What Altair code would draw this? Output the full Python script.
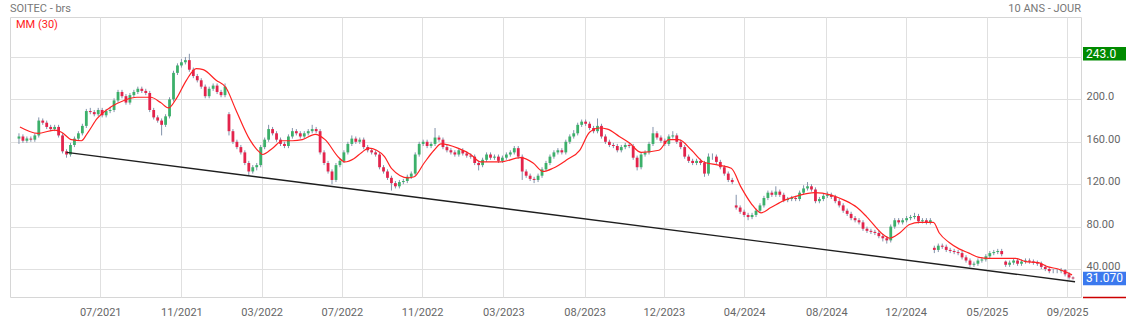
import json
import pandas as pd
import altair as alt

# ---------------- data ----------------
closes = [165,161,163,162,166,180,178,174,172,174,
          166,151,148,157,163,168,175,189,188,186,
          190,185,189,190,199,207,203,197,204,207,
          210,208,206,190,183,180,176,184,200,225,
          232,235,237,228,222,218,212,203,210,213,
          207,204,212,170,160,155,150,140,132,136,
          138,155,162,172,168,162,158,156,165,170,
          168,165,168,170,172,170,150,140,132,124,
          138,142,150,158,163,160,162,155,152,150,
          148,136,132,126,121,118,122,123,127,130,
          148,158,160,156,158,164,162,155,152,150,
          148,152,149,147,146,140,138,143,148,145,
          146,142,145,148,150,154,146,132,128,125,
          124,128,134,140,146,150,152,150,160,165,
          168,176,179,177,173,170,175,165,160,157,
          156,152,155,157,156,145,136,148,150,158,
          168,164,161,158,165,166,160,155,146,142,
          140,142,140,130,146,146,141,136,130,124,
          122,98,94,91,89,91,95,100,107,112,
          110,113,110,105,106,107,106,112,116,118,
          115,104,106,109,110,108,104,100,95,92,
          88,86,84,78,76,75,74,71,69,67,
          80,86,84,86,88,89,90,85,86,84,
          86,58,62,61,58,57,56,55,51,48,
          44,45,48,49,52,55,56,57,54,44,
          46,48,45,47,48,47,46,45,42,40,
          38,38,38,39,35,32,31.07]

opens = [163,165,161,163,162,166,180,178,174,172,
         174,166,151,148,157,163,168,175,189,188,
         186,190,185,189,190,199,207,203,197,204,
         207,210,208,206,190,183,180,176,184,200,
         225,232,235,237,228,222,218,212,203,210,
         213,207,204,186,170,160,155,150,140,132,
         136,138,155,162,172,168,162,158,156,165,
         170,168,165,168,170,172,170,150,140,132,
         124,138,142,150,158,163,160,162,155,152,
         150,148,136,132,126,121,118,122,123,127,
         130,148,158,160,156,158,164,162,155,152,
         150,148,152,149,147,146,140,138,143,148,
         145,146,142,145,148,150,154,146,132,128,
         125,124,128,134,140,146,150,152,150,160,
         165,168,176,179,177,173,170,175,165,160,
         157,156,152,155,157,156,145,136,148,150,
         158,168,164,161,158,165,166,160,155,146,
         142,140,142,140,130,146,146,141,136,130,
         124,100,98,94,91,89,91,95,100,107,
         112,110,113,110,105,106,107,106,112,116,
         118,115,104,106,109,110,108,104,100,95,
         92,88,86,84,78,76,75,74,71,69,
         67,80,86,84,86,88,89,90,85,86,
         84,60,58,62,61,58,57,56,55,51,
         48,44,45,48,49,52,55,56,57,47,
         44,46,48,45,47,48,47,46,45,42,
         40,38,38,38,39,35,32]

highs = [168,167,165,165,168,183,182,180,176,176,
         176,168,153,159,165,170,177,191,192,190,
         192,192,191,193,201,209,209,205,206,209,
         212,212,210,208,192,185,182,186,202,227,
         234,238,240,243,230,224,220,214,212,215,
         215,209,215,188,172,162,157,152,142,138,
         140,157,164,176,174,170,164,160,167,173,
         172,170,170,172,176,174,172,152,142,134,
         140,144,152,160,166,165,164,164,157,154,
         152,150,138,134,128,123,124,125,129,132,
         150,160,162,162,160,173,166,164,157,154,
         152,154,154,151,149,148,142,145,150,150,
         148,148,147,150,152,156,156,148,134,130,
         127,130,136,142,148,152,154,154,162,167,
         171,178,181,181,179,175,182,177,167,162,
         159,158,157,159,159,158,147,150,152,160,
         174,170,166,163,167,170,168,162,157,148,
         144,144,144,142,149,149,148,143,138,132,
         126,110,100,96,93,93,97,102,109,114,
         114,118,115,112,108,109,109,114,119,122,
         120,117,108,111,113,112,110,106,102,97,
         94,90,88,86,80,78,77,76,73,71,
         82,88,88,88,90,91,93,92,88,88,
         88,62,64,64,63,60,59,58,57,53,
         50,47,50,51,54,57,58,59,59,48,
         48,50,50,49,50,50,49,48,47,44,
         42,40,40,41,40,37,33]

lows = [158,159,159,160,160,164,176,172,170,170,
        164,149,145,146,155,161,166,173,186,184,
        184,183,183,187,188,197,201,195,195,202,
        205,206,204,188,181,178,166,174,182,198,
        223,230,233,226,220,216,210,201,201,208,
        205,202,202,166,158,153,148,138,128,130,
        133,136,153,160,166,160,156,154,154,163,
        166,163,163,166,168,168,148,138,130,120,
        122,136,140,148,156,158,158,153,150,148,
        146,134,130,124,114,116,116,120,121,125,
        128,146,156,154,154,156,160,153,150,148,
        146,146,147,145,144,138,133,136,141,143,
        143,140,140,143,146,148,144,124,126,123,
        121,122,126,132,138,144,148,148,148,158,
        163,166,174,175,171,168,168,163,158,155,
        154,150,150,153,154,143,133,134,146,148,
        156,162,159,156,156,163,158,153,144,140,
        138,138,138,127,128,143,139,134,128,122,
        120,96,92,89,86,87,89,93,98,105,
        108,108,108,103,103,104,104,104,110,114,
        113,102,102,104,107,106,102,98,93,90,
        86,84,82,76,74,73,72,69,66,64,
        65,78,82,82,84,86,87,83,83,82,
        82,55,56,59,56,55,54,53,49,46,
        42,42,43,46,47,50,53,54,52,42,
        42,44,43,43,45,45,44,43,40,38,
        36,36,36,36,33,30,30]

# MM (30) moving average (position in bar index, value)
ma_idx = [0.25,4.75,9,10.75,13.25,15.75,17.25,19.75,23.25,26.5,29.75,33.25,35.75,37.75,
          39.75,42.25,44.75,46.5,49.75,52.25,54.75,58.25,60.75,61.5,64,66.5,69,71.5,
          74.75,77.25,80.75,82.25,84.5,86.5,88.25,90.25,92.25,94,98.25,99.75,102.25,
          104.75,106.5,110.75,114,116.5,121.5,126.5,129.75,132.25,134.75,138.25,141.5,
          144,146.5,148.5,151.5,154,157,161.5,164,166.5,169.75,172.75,176.5,179.75,
          182.25,184.75,187.25,189.75,193.25,196.5,200.75,204.75,208.25,211.5,214,
          218.25,219.75,222.25,224.75,227.25,230.75,232.25,234.75,237.25,239.75,242.25,
          244.75,249,251.5,254,257.25,259.75,262.25,265.75]
ma_val = [174,168,171,169,162,161,168,182,193,199,202,202,197,192,
          201,218,229,228,218,211,190,162,150,148,154,161,161,162,
          167,162,145,141,144,150,154,152,146,135,126,127,140,
          152,158,154,148,141,141,145,140,132,135,143,152,
          169,173,172,165,159,150,152,162,162,152,141,138,135,
          117,102,93,98,105,109,112,110,105,98,89,
          72,69,74,82,84,84,74,65,59,55,51,
          50,50,50,47,46,42,40,34.5]

# black support trend line
trend_idx = [12, 266.5]
trend_val = [150, 28]

# axis ticks
x_tick_idx = [20.5, 41, 61.25, 81.5, 101.75, 122.25, 142.75, 162.75, 183, 203.75, 223.75, 244.25, 264.5]
x_tick_lab = ["07/2021", "11/2021", "03/2022", "07/2022", "11/2022", "03/2023", "08/2023",
              "12/2023", "04/2024", "08/2024", "12/2024", "05/2025", "09/2025"]
y_tick_val = [40, 80, 120, 160, 200, 240]
y_tick_lab = ["40.000", "80.00", "120.00", "160.00", "200.0", ""]

# price tags
tag_val = [243.0, 31.07]
tag_label = ["243.0", "31.070"]
tag_color = ["#008a00", "#3b79ee"]

# ---------------- chart ----------------
GREEN = "#3cb06a"
RED = "#e3244c"
WICK = "#8393ab"
FONT = "Roboto"

N = len(closes)
df = pd.DataFrame({"i": list(range(N)), "open": opens, "close": closes,
                   "high": highs, "low": lows})
ma_df = pd.DataFrame({"i": ma_idx, "ma": ma_val})
trend_df = pd.DataFrame({"i": trend_idx, "v": trend_val})
tag_df = pd.DataFrame({"v": tag_val, "label": tag_label, "color": tag_color})
one = pd.DataFrame({"a": [0]})

W, H = 1071, 280
x_scale = alt.Scale(domain=[-1, 266.75], nice=False, zero=False)
y_scale = alt.Scale(domain=[13.6, 277.7], nice=False, zero=False)

x_label_expr = f"{json.dumps(x_tick_lab)}[indexof({json.dumps(x_tick_idx)}, datum.value)]"
y_label_expr = f"{json.dumps(y_tick_lab)}[indexof({json.dumps(y_tick_val)}, datum.value)]"

x_axis = alt.Axis(values=x_tick_idx, labelExpr=x_label_expr, title=None, grid=True,
                  gridColor="#e0e0e0", domain=False, ticks=False, labelPadding=9,
                  labelFlush=False, labelOverlap=False, labelFontSize=11,
                  labelColor="#666666", labelFont=FONT)
y_axis = alt.Axis(orient="right", values=y_tick_val, labelExpr=y_label_expr, title=None,
                  grid=True, gridColor="#e0e0e0", domain=False, ticks=False,
                  labelPadding=5, labelAlign="left", labelBaseline="middle",
                  labelOffset=-2.5,
                  labelFontSize=11, labelColor="#666666", labelFont=FONT,
                  labelFlush=False, labelOverlap=False)


def X(field):
    return alt.X(field, scale=x_scale, axis=x_axis)


def Y(field):
    return alt.Y(field, scale=y_scale, axis=y_axis)


wicks = alt.Chart(df).mark_rule(color=WICK, strokeWidth=1).encode(
    x=X("i:Q"), y=Y("low:Q"), y2="high:Q",
)
bodies = alt.Chart(df).mark_bar(size=2.8).encode(
    x=X("i:Q"), y=Y("open:Q"), y2="close:Q",
    color=alt.condition("datum.close >= datum.open", alt.value(GREEN), alt.value(RED)),
)
ma_line = alt.Chart(ma_df).mark_line(color="#ff2222", strokeWidth=1.2,
                                     interpolate="monotone").encode(
    x=X("i:Q"), y=Y("ma:Q"))
trend = alt.Chart(trend_df).mark_line(color="#1e1e1e", strokeWidth=1.4).encode(
    x=X("i:Q"), y=Y("v:Q"))

tag_rect = alt.Chart(tag_df).transform_calculate(
    top="datum.v + 6.4", bot="datum.v - 6.4"
).mark_rect().encode(
    x=alt.value(1073), x2=alt.value(1116),
    y=Y("top:Q"), y2="bot:Q",
    color=alt.Color("color:N", scale=None),
)
tag_text = alt.Chart(tag_df).mark_text(align="left", baseline="middle", font=FONT,
                                       fontSize=12, color="white").encode(
    x=alt.value(1076), y=Y("v:Q"), text="label:N")

red_rule = alt.Chart(one).mark_rule(color="#cc0000", strokeWidth=1.5).encode(
    x=alt.value(1073), x2=alt.value(1116), y=alt.value(280.5))

t_title = alt.Chart(one).mark_text(text="SOITEC - brs", align="left", baseline="middle",
                                   font=FONT, fontSize=11, color="#777777").encode(
    x=alt.value(0), y=alt.value(-8))
t_right = alt.Chart(one).mark_text(text="10 ANS - JOUR", align="right", baseline="middle",
                                   font=FONT, fontSize=11, color="#777777").encode(
    x=alt.value(1071), y=alt.value(-8))
t_mm = alt.Chart(one).mark_text(text="MM (30)", align="left", baseline="middle",
                                font=FONT, fontSize=11, color="#ff1a1a").encode(
    x=alt.value(6), y=alt.value(8))

chart = alt.layer(
    wicks, bodies, ma_line, trend, tag_rect, tag_text, red_rule, t_title, t_right, t_mm
).properties(
    width=W, height=H,
    padding={"left": 10, "top": 17, "right": 45, "bottom": 25},
    autosize=alt.AutoSizeParams(type="none"),
    background="white",
).configure_view(stroke="#d6d6d6", strokeWidth=1)

chart.save("out.html", embed_options={"renderer": "svg", "actions": False})
